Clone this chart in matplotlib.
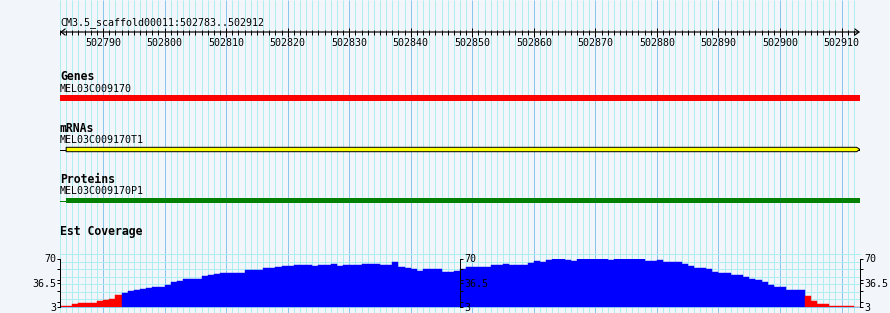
import numpy as np
import matplotlib.pyplot as plt

plt.rcParams['font.family'] = 'DejaVu Sans Mono'

# region shown in the browser
seq_name = 'CM3.5_scaffold00011'
view_start = 502783
view_end = 502912

# features (1-based, inclusive)
gene_name = 'MEL03C009170'
gene_start, gene_end = 502783, 502912
mrna_name = 'MEL03C009170T1'
mrna_start, mrna_end = 502783, 502912
exon_start, exon_end = 502784, 502912
prot_name = 'MEL03C009170P1'
prot_start, prot_end = 502783, 502912
cds_start, cds_end = 502784, 502912

# est coverage, one value per base
cov_pos = np.arange(view_start, view_end + 1)
cov_vals = [5, 5, 7, 8, 8, 8, 11, 13, 14, 19,
            23, 25, 26, 28, 29, 31, 31, 34, 37, 39,
            41, 41, 42, 46, 47, 48, 50, 50, 50, 50,
            54, 54, 54, 57, 57, 58, 60, 60, 61, 61,
            61, 60, 61, 61, 62, 60, 61, 61, 61, 62,
            62, 62, 61, 61, 65, 58, 57, 55, 53, 55,
            55, 55, 52, 52, 53, 55, 58, 58, 58, 58,
            61, 61, 62, 61, 61, 61, 64, 66, 65, 68,
            70, 70, 68, 67, 69, 69, 70, 70, 70, 68,
            70, 70, 70, 70, 70, 67, 67, 68, 65, 65,
            65, 62, 60, 57, 57, 55, 52, 50, 50, 47,
            47, 44, 42, 40, 37, 34, 31, 31, 27, 27,
            27, 18, 11, 7, 7, 5, 4, 4, 4, 3]
cov_min, cov_max = 3, 70
cov_ticks = [3, 36.5, 70]
cov_ticklabels = ['3', '36.5', '70']
cov_minor = [10, 25, 40, 55]
cov_pivot = 20

bg = '#f2f5fa'
grid_minor = '#aeeef0'
grid_major = '#88c6ee'
px = 0.72  # one pixel in points

fig = plt.figure(figsize=(8.9, 3.13), dpi=100, facecolor=bg)

# main panel: x in bases, y in pixels from the top
ax = fig.add_axes([60 / 890, 0, 800 / 890, 1])
ax.set_xlim(view_start, view_end + 1)
ax.set_ylim(313, 0)
ax.axis('off')

# grid lines, one per base, darker every 10
bases = np.arange(view_start, view_end + 2)
ax.vlines(bases[bases % 10 != 0], 0, 313, color=grid_minor, lw=px, zorder=0)
ax.vlines(bases[bases % 10 == 0], 0, 313, color=grid_major, lw=px, zorder=0)

# ruler
ax.text(view_start, 25, '%s:%d..%d' % (seq_name, view_start, view_end),
        fontsize=7.2, va='baseline', ha='left')
ax.annotate('', xy=(view_start, 32), xytext=(view_end + 1, 32),
            arrowprops=dict(arrowstyle='<->,head_length=0.3,head_width=0.22',
                            lw=px * 1.2, color='black', shrinkA=0, shrinkB=0,
                            mutation_scale=10))
ax.vlines(bases, 30, 34.5, color='black', lw=px)
ax.vlines(bases[bases % 10 == 0], 28, 37, color='black', lw=px)
for b in bases[bases % 10 == 0]:
    ax.text(b, 46, str(b), fontsize=7.2, ha='center', va='baseline')

# Genes track
ax.text(view_start, 80, 'Genes', fontsize=8.3, fontweight='bold', va='baseline')
ax.text(view_start, 91.7, gene_name, fontsize=7.2, va='baseline')
ax.barh(98, gene_end + 1 - gene_start, left=gene_start, height=6,
        color='#ff0000', zorder=3)

# mRNAs track
ax.text(view_start, 132.3, 'mRNAs', fontsize=8.3, fontweight='bold', va='baseline')
ax.text(view_start, 143.3, mrna_name, fontsize=7.2, va='baseline')
ax.plot([mrna_start, mrna_end + 1], [149.5, 149.5], color='black', lw=px, zorder=3)
tip = 0.55
e = exon_end + 1
ax.fill([exon_start, e - tip, e, e - tip, exon_start],
        [147.3, 147.3, 149.5, 151.7, 151.7],
        facecolor='#ffff00', edgecolor='black', lw=px, zorder=4)

# Proteins track
ax.text(view_start, 182.7, 'Proteins', fontsize=8.3, fontweight='bold', va='baseline')
ax.text(view_start, 194, prot_name, fontsize=7.2, va='baseline')
ax.plot([prot_start, prot_end + 1], [200.5, 200.5], color='#008000', lw=px, zorder=3)
ax.barh(200.5, cds_end + 1 - cds_start, left=cds_start, height=5.6,
        color='#008000', zorder=4)

# Est Coverage track
ax.text(view_start, 235, 'Est Coverage', fontsize=8.3, fontweight='bold', va='baseline')

cov = fig.add_axes([60 / 890, (313 - 307) / 313, 800 / 890, (307 - 258.5) / 313])
cov.set_xlim(view_start, view_end + 1)
cov.set_ylim(cov_min, cov_max)
cov.patch.set_alpha(0)

step = 10.4
for v in np.arange(cov_min + step, cov_max + 6, step):
    cov.axhline(v, color=grid_minor, lw=px, zorder=0, clip_on=False)
cov.axhline(cov_min, color=grid_major, lw=px, zorder=1, clip_on=False)

colors = ['#ff0000' if v < cov_pivot else '#0000ff' for v in cov_vals]
cov.bar(cov_pos, np.array(cov_vals) - cov_min, bottom=cov_min, width=1,
        align='edge', color=colors, edgecolor=colors, lw=0.3, zorder=2)

for s in ['top', 'right', 'bottom']:
    cov.spines[s].set_visible(False)
cov.spines['left'].set_linewidth(px)
cov.set_xticks([])

def style_axis(a):
    a.set_yticks(cov_ticks)
    a.set_yticklabels(cov_ticklabels)
    a.set_yticks(cov_minor, minor=True)
    a.tick_params(axis='y', which='both', length=3.3 * px, width=px,
                  direction='out', pad=0.6, labelsize=7.2)

style_axis(cov)
for loc in [0.5, 1.0]:
    sa = cov.secondary_yaxis(loc)
    sa.set_zorder(10)
    sa.spines['right'].set_linewidth(px)
    style_axis(sa)

plt.savefig('out.png', dpi=100, facecolor=bg)
